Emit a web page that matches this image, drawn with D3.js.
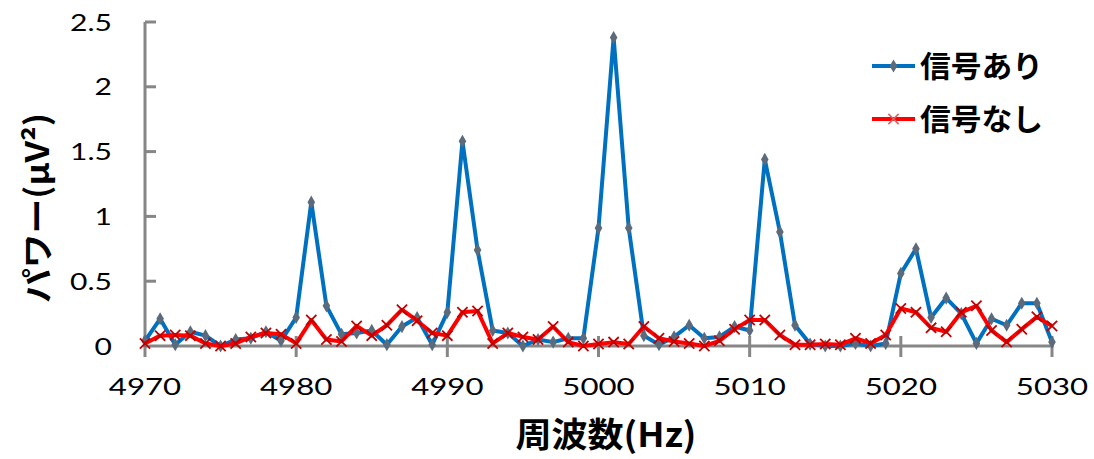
<!DOCTYPE html>
<html><head><meta charset="utf-8">
<script src="https://cdn.jsdelivr.net/npm/d3@7"></script>
<style>body{margin:0;background:#fff;} svg{display:block;}</style>
</head><body>
<svg id="chart" width="1094" height="459"></svg>
<script>
const frequencies = [4970,4971,4972,4973,4974,4975,4976,4977,4978,4979,4980,4981,4982,4983,4984,4985,4986,4987,4988,4989,4990,4991,4992,4993,4994,4995,4996,4997,4998,4999,5000,5001,5002,5003,5004,5005,5006,5007,5008,5009,5010,5011,5012,5013,5014,5015,5016,5017,5018,5019,5020,5021,5022,5023,5024,5025,5026,5027,5028,5029,5030];
const withSignal = [0.04,0.21,0.01,0.11,0.08,0.00,0.05,0.06,0.11,0.04,0.22,1.11,0.31,0.09,0.10,0.12,0.01,0.15,0.22,0.01,0.26,1.58,0.74,0.12,0.10,0.00,0.05,0.03,0.06,0.06,0.91,2.38,0.91,0.08,0.01,0.07,0.16,0.06,0.07,0.15,0.12,1.44,0.88,0.16,0.015,0.00,0.00,0.02,0.00,0.02,0.56,0.75,0.22,0.37,0.25,0.02,0.21,0.16,0.33,0.33,0.03];
const noSignal = [0.02,0.08,0.085,0.08,0.02,0.00,0.02,0.07,0.10,0.09,0.02,0.20,0.05,0.035,0.155,0.08,0.16,0.28,0.195,0.10,0.08,0.26,0.27,0.02,0.10,0.07,0.05,0.15,0.03,0.00,0.015,0.03,0.015,0.15,0.06,0.035,0.02,0.00,0.04,0.13,0.20,0.20,0.085,0.01,0.01,0.015,0.01,0.06,0.02,0.085,0.29,0.26,0.14,0.11,0.26,0.31,0.12,0.03,0.13,0.225,0.155];
const xTicks = [4970,4980,4990,5000,5010,5020,5030];
const yTicks = [0,0.5,1,1.5,2,2.5];
const yTickLabels = ["0","0.5","1","1.5","2","2.5"];
const seriesNames = ["信号あり","信号なし"];
const xTitle = "周波数(Hz)";
const yTitle = "パワー(μV²)";

const svg = d3.select("#chart");
const x = d3.scaleLinear().domain([4970,5030]).range([145,1052]);
const y = d3.scaleLinear().domain([0,2.5]).range([346,22]);
const axisColor = "#868686";
const tickFont = "Lato, 'Liberation Sans', sans-serif";
const cjkFont = "'Noto Sans CJK JP', sans-serif";

// axes lines
svg.append("line").attr("x1",x(4970)).attr("x2",x(4970)).attr("y1",y(2.5)).attr("y2",y(0)+1.5)
  .attr("stroke",axisColor).attr("stroke-width",3);
svg.append("line").attr("x1",x(4970)-1.5).attr("x2",x(5030)+1.5).attr("y1",y(0)).attr("y2",y(0))
  .attr("stroke",axisColor).attr("stroke-width",3);
// y ticks (inside)
svg.selectAll(".yt").data(yTicks.filter(d=>d>0)).enter().append("line")
  .attr("x1",x(4970)).attr("x2",x(4970)+11).attr("y1",d=>y(d)).attr("y2",d=>y(d))
  .attr("stroke",axisColor).attr("stroke-width",3);
// x ticks (cross)
svg.selectAll(".xt").data(xTicks).enter().append("line")
  .attr("x1",d=>x(d)).attr("x2",d=>x(d)).attr("y1",y(0)-10).attr("y2",y(0)+11)
  .attr("stroke",axisColor).attr("stroke-width",3);

// tick labels
svg.selectAll(".yl").data(yTicks).enter().append("text")
  .attr("transform",d=>`translate(112,${y(d)}) scale(1.25,1)`)
  .attr("dy","0.36em").attr("text-anchor","end")
  .style("font-family",tickFont).style("font-size","24px").attr("fill","#000")
  .text((d,i)=>yTickLabels[i]);
svg.selectAll(".xl").data(xTicks).enter().append("text")
  .attr("transform",d=>`translate(${x(d)},386) scale(1.3,1)`)
  .attr("dy","0.36em").attr("text-anchor","middle")
  .style("font-family",tickFont).style("font-size","24px").attr("fill","#000")
  .text(d=>d);

// titles
svg.append("text").attr("x",606).attr("y",447).attr("text-anchor","middle")
  .attr("textLength",181).attr("lengthAdjust","spacingAndGlyphs")
  .style("font-family",cjkFont).style("font-weight","bold").style("font-size","34px")
  .text(xTitle);
svg.append("text").attr("transform","translate(49,208) rotate(-90)").attr("text-anchor","middle")
  .attr("textLength",190).attr("lengthAdjust","spacingAndGlyphs")
  .style("font-family",cjkFont).style("font-weight","bold").style("font-size","32px")
  .text(yTitle);

const line = d3.line().x((d,i)=>x(frequencies[i])).y(d=>y(d));
const blue = "#0070C0", red = "#FF0000";
const diamond = d3.symbol().type(d3.symbolDiamond).size(50);

// blue series
svg.append("path").datum(withSignal).attr("d",line).attr("fill","none")
  .attr("stroke",blue).attr("stroke-width",4).attr("stroke-linejoin","round");
svg.selectAll(".bm").data(withSignal).enter().append("path")
  .attr("d",diamond).attr("transform",(d,i)=>`translate(${x(frequencies[i])},${y(d)})`)
  .attr("fill","#5b6b7c");

// red series
svg.append("path").datum(noSignal).attr("d",line).attr("fill","none")
  .attr("stroke",red).attr("stroke-width",4).attr("stroke-linejoin","round");
const cross = d3.symbol().type(d3.symbolX).size(70);
svg.selectAll(".rm").data(noSignal).enter().append("path")
  .attr("d",cross).attr("transform",(d,i)=>`translate(${x(frequencies[i])},${y(d)})`)
  .attr("fill","none").attr("stroke","#c00000").attr("stroke-width",1.8);

// legend
const legY = [66,119];
const colors = [blue, red];
seriesNames.forEach((name,i)=>{
  const g = svg.append("g");
  g.append("line").attr("x1",872).attr("x2",915).attr("y1",legY[i]).attr("y2",legY[i])
    .attr("stroke",colors[i]).attr("stroke-width",4);
  if(i===0){
    g.append("path").attr("d",diamond).attr("transform",`translate(893.5,${legY[i]})`).attr("fill","#5b6b7c");
  } else {
    g.append("path").attr("d",cross).attr("transform",`translate(893.5,${legY[i]})`)
      .attr("fill","none").attr("stroke","#e06060").attr("stroke-width",1.5);
  }
  g.append("text").attr("x",920).attr("y",legY[i]).attr("dy","0.36em")
    .attr("textLength",123).attr("lengthAdjust","spacingAndGlyphs")
    .style("font-family",cjkFont).style("font-weight","bold").style("font-size","30px")
    .text(name);
});
</script>
</body></html>
